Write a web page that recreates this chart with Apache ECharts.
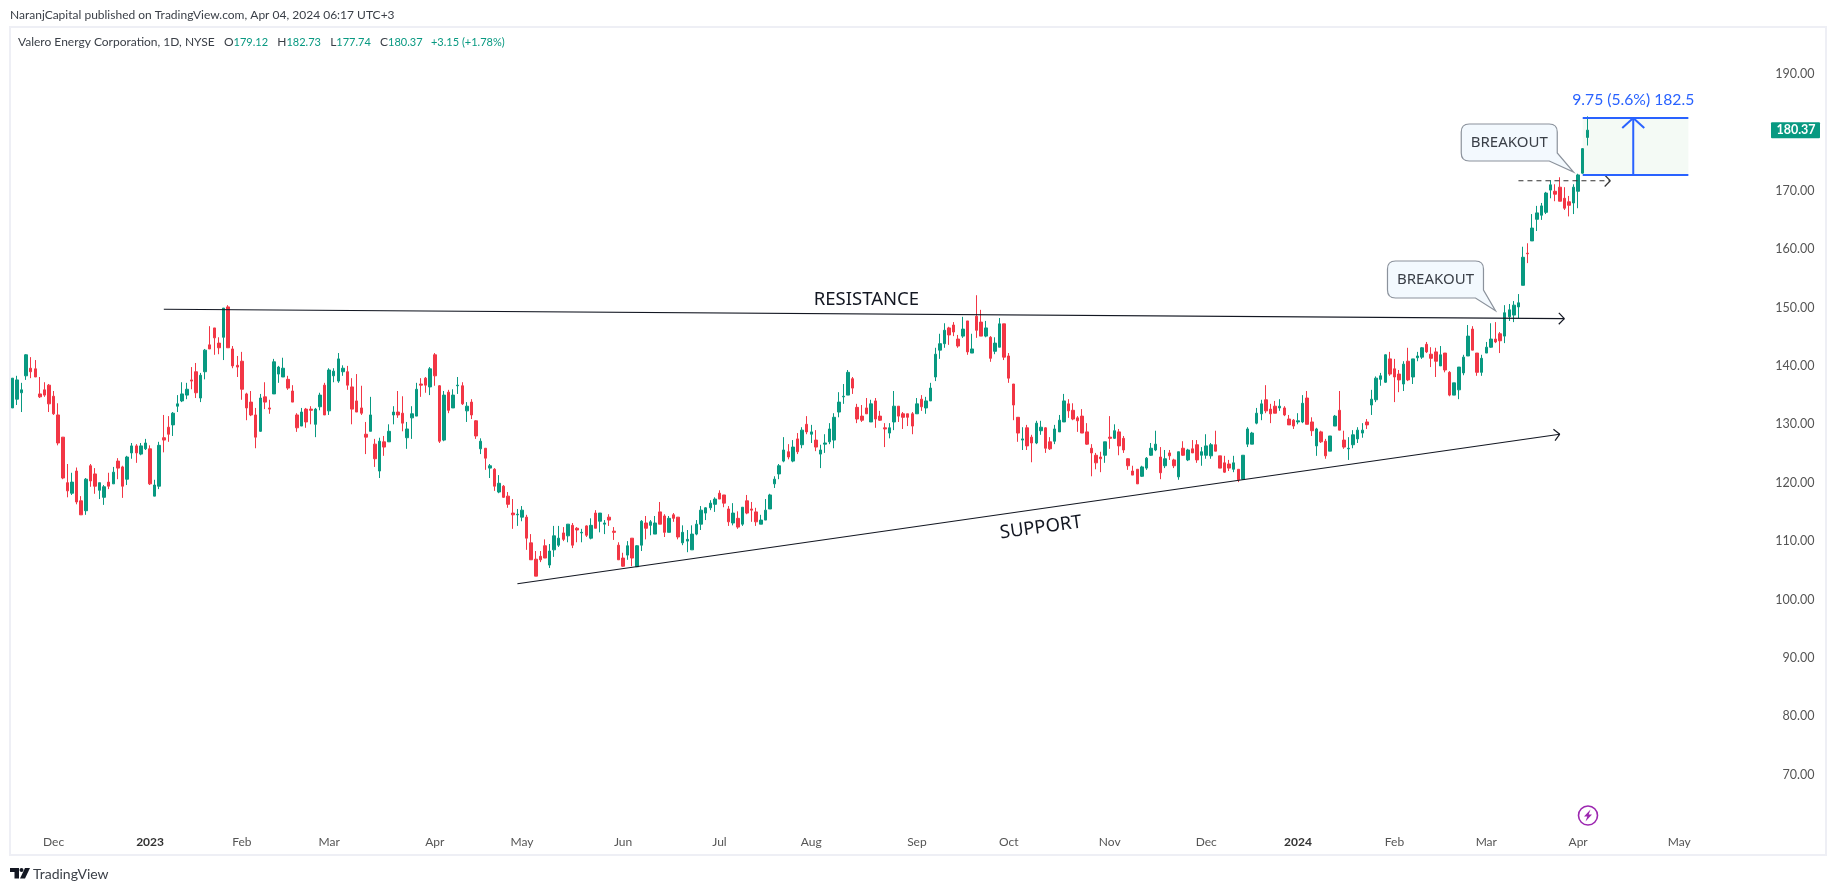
<!DOCTYPE html>
<html>
<head>
<meta charset="utf-8">
<title>Valero Energy Corporation, 1D</title>
<script src="https://cdn.jsdelivr.net/npm/echarts@6/dist/echarts.min.js"></script>
<style>
    html, body { margin: 0; padding: 0; background: #fff; }
    #chart { width: 1835px; height: 891px; }
</style>
</head>
<body>
<div id="chart"></div>
<script>
// daily bars, oldest first
var opens = [
    132.8,134.3,135.4,138.3,139.6,139.5,135.2,135.9,136.7,134.8,
    131.6,127.8,120.0,118.2,122.0,116.9,115.2,122.9,121.5,118.7,
    117.5,120.1,119.8,123.7,122.7,120.6,125.1,126.3,124.9,125.8,
    125.8,117.7,119.4,127.7,129.5,129.9,133.1,134.0,135.0,137.6,
    139.0,134.5,139.0,143.6,146.5,143.9,144.9,150.1,142.9,140.1,
    140.8,135.2,133.8,131.6,128.8,134.7,132.8,135.2,138.6,138.1,
    137.7,135.7,131.6,129.7,132.6,132.6,130.0,133.0,136.7,132.3,
    138.3,137.4,139.0,139.0,136.4,134.0,132.8,128.3,128.8,126.6,
    122.0,127.0,127.0,131.6,132.1,131.9,127.7,131.1,131.4,136.9,
    137.9,136.4,141.9,136.6,127.3,135.5,132.8,136.6,136.6,132.3,
    133.8,130.6,125.8,125.9,122.5,122.3,118.4,119.4,117.7,114.8,
    114.5,114.1,114.1,109.7,106.9,107.4,109.2,105.9,108.5,109.3,
    111.4,110.9,112.7,112.2,111.4,112.6,110.5,114.8,113.4,112.9,
    114.1,111.7,109.3,107.1,107.6,110.5,105.6,109.3,113.1,112.7,
    111.2,115.0,114.3,111.5,114.5,114.1,109.7,110.0,108.5,111.2,
    112.9,114.8,115.7,116.3,118.2,117.9,115.5,113.1,113.9,112.9,
    116.9,115.5,115.0,112.9,113.6,115.5,119.8,121.5,123.7,125.3,
    123.7,127.5,126.5,130.0,128.3,127.3,124.9,126.6,127.0,127.3,
    132.1,134.7,135.0,137.8,132.9,131.4,132.8,130.4,134.0,131.4,
    129.4,128.5,130.4,133.1,131.8,131.8,131.8,131.8,134.3,132.8,
    134.0,138.1,142.7,143.8,146.5,147.0,144.6,145.1,147.7,142.2,
    148.5,147.5,145.1,144.9,142.5,143.2,147.2,141.7,136.9,131.2,
    127.3,129.4,127.8,126.8,128.9,129.4,127.0,127.1,128.7,130.4,
    133.5,132.4,131.1,131.4,128.7,125.9,124.7,124.4,124.7,127.8,
    127.6,128.7,127.6,124.1,122.0,122.3,121.1,122.5,124.7,125.6,
    124.4,122.9,125.1,123.9,121.0,125.9,123.9,125.8,126.5,124.7,
    124.7,124.6,126.5,124.6,123.4,123.2,122.3,122.3,120.6,126.6,
    126.6,130.2,131.8,134.2,132.6,133.1,132.8,132.8,130.9,130.7,
    130.4,130.4,134.5,130.4,126.3,128.7,127.1,125.4,129.7,132.4,
    127.3,125.8,126.5,127.5,128.5,130.4,133.3,134.2,137.7,137.2,
    141.2,139.5,138.6,136.9,140.8,138.1,141.4,141.5,143.7,142.0,
    142.4,140.0,142.2,138.9,135.0,135.9,138.8,141.7,146.3,142.2,
    138.9,142.2,143.2,144.6,145.5,145.1,148.4,148.7,150.1,153.8,
    159.3,161.4,165.1,165.8,166.3,170.1,169.9,170.6,168.7,168.1,
    167.9,169.9,173.0,179.12
];
var closes = [
    137.9,137.6,135.9,141.9,139.0,138.1,134.7,135.0,133.5,131.8,
    126.8,120.8,118.6,120.1,116.7,114.5,120.6,120.3,119.4,120.0,
    119.3,119.4,121.8,122.5,119.4,124.4,126.3,125.1,126.3,126.8,
    119.8,119.6,126.4,127.3,128.3,131.9,133.5,135.2,136.0,137.4,
    135.4,138.4,142.7,142.9,144.8,143.1,149.9,143.1,140.0,139.8,
    136.0,132.8,131.6,127.8,134.5,133.8,132.6,140.7,139.8,139.6,
    136.2,133.8,129.4,132.1,130.4,132.4,132.6,135.0,131.6,139.3,
    139.1,141.2,139.6,136.7,132.6,132.1,131.9,127.8,131.6,124.1,
    127.1,126.1,128.8,132.1,131.6,130.2,129.2,131.8,136.0,136.7,
    136.7,139.5,138.3,127.1,135.0,132.4,135.0,136.7,133.5,133.1,
    131.6,128.0,127.1,124.2,122.9,119.4,119.9,117.5,116.3,114.5,
    114.6,115.3,110.5,106.8,104.0,106.8,107.1,108.3,110.9,110.5,
    110.3,112.9,109.3,111.9,111.5,111.0,112.7,112.2,114.8,113.1,
    113.6,111.5,106.8,105.7,109.2,107.1,109.2,113.4,112.2,113.3,
    113.1,112.9,111.5,113.9,113.9,110.7,111.5,110.3,111.2,112.9,
    115.3,115.7,116.5,117.2,117.2,116.5,113.3,114.8,112.4,115.8,
    114.8,115.3,113.3,113.6,115.3,117.9,120.6,122.9,125.6,124.4,
    126.1,125.3,129.0,128.7,128.7,126.1,125.6,126.8,129.2,131.2,
    133.8,134.8,138.9,136.2,130.9,130.7,131.8,133.5,130.9,130.7,
    129.2,129.4,133.1,131.4,131.2,131.2,129.7,133.5,133.0,134.0,
    136.2,142.0,143.8,146.1,145.3,145.8,143.4,146.3,142.4,142.9,
    146.1,145.1,146.5,141.3,143.9,147.2,141.5,137.9,133.3,128.5,
    127.5,126.3,126.8,130.2,129.5,125.9,125.8,129.2,130.7,134.0,
    132.3,130.9,130.6,128.5,126.6,125.1,123.4,124.1,127.0,127.6,
    128.9,126.3,125.6,122.9,121.3,119.8,122.7,124.2,125.9,126.6,
    121.7,124.1,124.6,122.9,125.3,124.7,125.6,125.1,123.9,125.3,
    126.3,126.5,125.4,122.5,121.8,122.5,123.4,120.5,124.7,129.2,
    128.5,131.9,133.5,132.3,131.8,131.9,133.1,131.6,129.9,129.7,
    130.6,133.6,130.0,128.9,129.2,127.0,124.6,128.0,131.4,129.0,
    126.1,125.9,128.2,129.0,129.0,129.9,134.3,137.9,138.3,141.9,
    138.6,138.1,137.6,140.3,137.6,141.2,141.7,143.1,142.4,141.3,
    140.8,141.9,139.3,135.0,137.1,139.8,141.5,145.1,142.7,138.9,
    141.3,143.2,144.6,144.1,144.3,149.1,149.6,150.4,150.8,158.6,
    159.2,163.6,166.2,167.4,169.6,171.0,169.4,168.2,167.0,167.5,
    170.6,172.7,177.2,180.37
];
var highs = [
    137.9,138.3,137.1,142.0,141.5,141.0,138.1,137.2,136.9,135.7,
    133.6,127.8,123.2,121.7,122.6,117.7,120.8,123.2,122.5,120.0,
    119.6,121.7,122.7,124.2,122.9,124.6,126.8,126.6,126.8,127.5,
    126.4,120.5,127.0,131.6,131.4,132.1,135.0,137.2,137.1,139.8,
    140.5,138.8,142.9,146.8,146.5,144.9,149.9,150.4,143.4,141.7,
    142.4,135.4,135.7,132.8,135.2,137.2,134.2,141.2,140.0,141.4,
    138.3,136.7,131.9,132.8,132.8,133.1,132.8,135.4,137.1,139.6,
    139.6,142.2,140.1,140.0,137.9,138.6,136.6,130.4,134.7,127.5,
    127.7,128.0,130.0,133.1,135.7,134.8,130.4,133.1,137.1,137.9,
    138.1,139.8,142.2,136.7,135.7,135.9,136.0,138.1,137.2,133.8,
    134.3,130.7,127.6,125.9,123.2,122.5,121.3,119.6,118.4,117.2,
    115.5,116.0,114.5,111.2,108.3,108.3,110.3,109.5,112.6,112.6,
    112.4,112.9,113.1,112.4,112.1,112.7,113.9,115.3,114.8,113.6,
    114.6,112.4,109.8,108.0,110.0,110.5,109.3,113.6,114.3,113.6,
    114.3,116.7,114.6,114.3,114.8,114.1,112.7,111.9,112.7,113.6,
    116.0,115.8,117.0,117.5,118.7,117.9,116.0,116.5,115.1,115.8,
    117.9,116.7,115.7,114.5,117.2,118.1,121.1,123.2,127.8,126.6,
    127.3,128.5,129.5,131.4,129.9,129.0,126.5,128.3,130.2,131.9,
    135.5,136.9,139.3,138.1,133.5,133.3,134.5,134.2,134.5,132.3,
    130.2,130.2,135.7,133.1,132.1,131.8,132.1,134.5,135.0,134.7,
    137.1,143.1,145.5,147.3,146.7,147.5,145.3,148.4,147.7,145.5,
    152.1,149.6,147.7,145.1,144.9,148.2,147.2,142.2,136.9,131.2,
    129.5,129.9,128.2,130.6,130.6,129.5,127.8,129.9,131.6,135.2,
    134.3,133.6,131.4,132.6,130.2,126.6,125.1,125.3,127.0,131.4,
    130.0,129.2,128.0,124.2,122.9,122.3,122.9,124.4,126.8,128.9,
    126.1,125.6,125.6,124.1,125.3,127.1,125.8,127.3,127.3,126.1,
    128.3,126.8,128.9,124.6,124.6,123.9,124.6,122.3,124.7,129.5,
    128.7,132.8,134.2,136.7,133.5,134.0,134.3,133.1,131.6,130.9,
    131.9,135.0,135.7,131.2,129.4,128.9,127.5,128.0,131.6,135.7,
    128.9,127.8,129.0,129.5,130.2,130.9,135.9,138.2,138.8,142.0,
    142.4,141.2,139.3,140.8,143.1,141.2,142.4,143.2,144.1,143.2,
    143.1,143.4,142.2,139.1,137.1,139.8,141.9,147.0,146.8,142.2,
    141.9,144.1,147.3,147.5,145.8,150.4,150.6,151.1,152.3,160.4,
    161.0,166.0,167.4,167.9,169.8,171.8,171.1,172.3,170.6,169.1,
    171.1,172.9,177.3,182.73
];
var lows = [
    132.8,133.3,132.1,137.6,137.9,138.1,134.5,134.7,132.1,131.6,
    126.4,120.6,117.5,117.9,116.3,114.5,114.5,119.3,118.1,117.2,
    116.2,118.9,119.8,120.6,117.4,119.6,124.1,123.4,124.7,125.6,
    119.6,117.7,118.9,125.2,127.0,128.0,132.1,133.8,134.3,136.0,
    134.5,133.8,137.7,142.9,141.9,142.0,141.0,143.1,139.6,138.1,
    134.2,130.7,131.4,125.9,128.7,132.6,131.8,135.2,137.1,138.1,
    135.9,133.8,128.7,129.7,129.4,130.0,127.8,132.4,131.6,131.6,
    137.2,137.1,138.3,135.9,130.0,132.1,131.6,124.9,128.8,122.7,
    120.8,124.6,127.0,130.0,131.1,128.8,125.8,127.5,131.4,134.7,
    135.4,135.0,136.6,126.8,127.1,131.9,132.8,135.2,133.3,130.4,
    130.9,127.5,124.9,122.2,120.8,118.6,118.2,117.4,115.7,112.1,
    112.6,113.4,108.5,106.8,104.0,106.4,107.1,105.4,107.3,109.0,
    110.0,109.8,108.8,109.8,109.8,110.7,110.3,112.2,111.5,111.2,
    112.6,110.2,106.8,105.6,106.8,105.7,105.6,108.3,110.3,111.0,
    111.2,112.9,110.7,111.5,113.3,110.3,109.3,108.1,108.5,111.0,
    111.9,113.6,115.3,115.0,117.2,115.8,112.6,112.7,112.1,112.6,
    114.6,113.3,112.6,112.9,113.6,115.5,119.1,120.6,123.5,124.0,
    123.5,124.9,125.9,128.3,126.8,125.4,122.5,125.1,126.6,125.9,
    131.2,133.5,135.0,135.2,130.2,130.4,131.8,130.4,129.4,130.6,
    126.1,127.6,129.0,130.4,129.2,129.7,128.3,131.8,132.3,131.8,
    134.0,137.4,141.2,143.1,143.6,145.1,143.1,144.8,141.9,142.2,
    144.8,145.1,144.9,140.7,142.0,143.2,141.0,137.1,130.7,127.0,
    125.6,125.6,123.5,126.6,128.2,125.1,125.6,126.6,128.7,130.4,
    131.1,130.7,128.7,128.5,126.5,121.1,122.3,121.8,123.4,125.8,
    127.5,124.7,125.1,122.2,121.3,119.8,121.0,122.2,124.6,125.4,
    120.6,122.5,123.9,122.5,120.5,124.6,123.7,125.1,123.4,122.9,
    124.1,124.1,125.4,122.5,121.7,122.0,121.8,120.1,120.5,126.1,
    126.6,130.0,130.7,131.9,130.2,131.9,132.3,131.4,129.9,129.2,
    130.0,130.2,130.0,128.0,124.6,126.8,124.1,125.4,129.7,129.0,
    125.8,123.9,125.9,126.8,127.7,129.2,131.6,133.8,136.6,137.1,
    138.3,133.8,135.5,135.7,137.4,136.9,140.8,141.2,142.2,139.8,
    138.1,140.0,138.9,134.8,135.0,134.3,138.4,141.7,142.7,138.3,
    138.3,142.2,143.1,143.9,142.2,143.9,147.7,147.5,148.2,153.8,
    157.6,161.4,163.1,165.0,166.0,168.7,168.2,168.2,166.7,165.6,
    166.0,167.0,172.9,177.74
];

// time axis: bar slot of each month label, the rest of the slots stay empty
var slotCount = 396;
var monthLabels = ['Dec', '2023', 'Feb', 'Mar', 'Apr', 'May', 'Jun', 'Jul', 'Aug', 'Sep', 'Oct', 'Nov', 'Dec', '2024', 'Feb', 'Mar', 'Apr', 'May'];
var monthSlots = [9, 30, 50, 69, 92, 111, 133, 154, 174, 197, 217, 239, 260, 280, 301, 321, 341, 363];
var priceTicks = [70, 80, 90, 100, 110, 120, 130, 140, 150, 160, 170, 180, 190];

// drawings, as [slot, price]
var resistanceLine = [[33, 149.7], [338, 148.1]];
var supportLine = [[110, 102.7], [337, 128.3]];
var dashedLine = [[328, 171.7], [348, 171.7]];
var rangeFrom = [342, 172.7];
var rangeTo = [365, 182.45];
var rangeArrowSlot = 353;
var lastPrice = 180.37;

var GREEN = '#089981';
var RED = '#f23645';
var BLUE = '#2962ff';
var FONT = 'Lato, "Noto Sans", sans-serif';

var categories = [];
for (var s = 0; s < slotCount; s++) {
    var at = monthSlots.indexOf(s);
    categories.push(at >= 0 ? monthLabels[at] : '');
}

var candles = [];
for (var i = 0; i < opens.length; i++) {
    candles.push([opens[i], closes[i], lows[i], highs[i]]);
}

function segment(a, b, stroke, width, dash) {
    return {
        type: 'line',
        shape: { x1: a[0], y1: a[1], x2: b[0], y2: b[1] },
        style: { stroke: stroke, lineWidth: width, lineDash: dash || null, fill: null }
    };
}

// line from a to b with an open head at b
function arrowLine(api, from, to, stroke, dash) {
    var a = api.coord(from);
    var b = api.coord(to);
    var ang = Math.atan2(b[1] - a[1], b[0] - a[0]);
    var len = 8;
    var h1 = [b[0] - len * Math.cos(ang - 0.8), b[1] - len * Math.sin(ang - 0.8)];
    var h2 = [b[0] - len * Math.cos(ang + 0.8), b[1] - len * Math.sin(ang + 0.8)];
    return [
        segment(a, b, stroke, 1.2, dash),
        segment(h1, b, stroke, 1.2),
        segment(h2, b, stroke, 1.2)
    ];
}

// rounded label box with a tail that ends on the given point
function callout(api, tipPoint, right, bottom) {
    var tip = api.coord(tipPoint);
    var x1 = tip[0] - right - 96;
    var x2 = tip[0] - right;
    var y1 = tip[1] - bottom - 37;
    var y2 = tip[1] - bottom;
    var r = 8;
    var d = 'M' + (x1 + r) + ' ' + y1 + ' L' + (x2 - r) + ' ' + y1 +
        ' Q' + x2 + ' ' + y1 + ' ' + x2 + ' ' + (y1 + r) +
        ' L' + x2 + ' ' + (y2 - 8) +
        ' L' + tip[0] + ' ' + tip[1] +
        ' L' + (x2 - 8) + ' ' + y2 +
        ' L' + (x1 + r) + ' ' + y2 +
        ' Q' + x1 + ' ' + y2 + ' ' + x1 + ' ' + (y2 - r) +
        ' L' + x1 + ' ' + (y1 + r) +
        ' Q' + x1 + ' ' + y1 + ' ' + (x1 + r) + ' ' + y1 + ' Z';
    return [
        { type: 'path', shape: { pathData: d }, style: { fill: '#f3f9fe', stroke: '#8b929c', lineWidth: 1.2 } },
        {
            type: 'text',
            style: { text: 'BREAKOUT', x: (x1 + x2) / 2, y: (y1 + y2) / 2, fill: '#3a3f47', font: '15px "Noto Sans", sans-serif', align: 'center', verticalAlign: 'middle' }
        }
    ];
}

function chartText(api, point, text, angle) {
    var p = api.coord(point);
    return {
        type: 'text',
        x: p[0],
        y: p[1],
        rotation: angle,
        style: { text: text, x: 0, y: 0, fill: '#131722', font: '18.5px "Noto Sans", sans-serif', align: 'center', verticalAlign: 'middle' }
    };
}

function renderDrawings(params, api) {
    var items = [];
    items = items.concat(arrowLine(api, resistanceLine[0], resistanceLine[1], '#131722'));
    items = items.concat(arrowLine(api, supportLine[0], supportLine[1], '#131722'));
    items = items.concat(arrowLine(api, dashedLine[0], dashedLine[1], '#333', [5, 4]));

    // price range box
    var low = api.coord(rangeFrom);
    var high = api.coord(rangeTo);
    var mid = api.coord([rangeArrowSlot, rangeTo[1]])[0];
    items.push({
        type: 'rect',
        shape: { x: low[0], y: high[1], width: high[0] - low[0], height: low[1] - high[1] },
        style: { fill: 'rgba(76,175,80,0.06)' }
    });
    items.push(segment([low[0], high[1]], [high[0], high[1]], BLUE, 2));
    items.push(segment([low[0], low[1]], [high[0], low[1]], BLUE, 2));
    items.push(segment([mid, low[1]], [mid, high[1]], BLUE, 2));
    items.push(segment([mid - 11, high[1] + 10], [mid, high[1]], BLUE, 2));
    items.push(segment([mid + 11, high[1] + 10], [mid, high[1]], BLUE, 2));
    items.push({
        type: 'text',
        style: { text: '9.75 (5.6%) 182.5', x: mid, y: high[1] - 18, fill: BLUE, font: '15.7px ' + FONT, align: 'center', verticalAlign: 'middle' }
    });

    items = items.concat(callout(api, [340, 173.2], 16.3, 11));
    items = items.concat(callout(api, [323, 149.45], 12, 12.7));
    items.push(chartText(api, [186, 151.4], 'RESISTANCE', 0));
    items.push(chartText(api, [224, 112.3], 'SUPPORT', 0.135));

    // last price tag on the scale
    var tagY = api.coord([0, lastPrice])[1];
    items.push({
        type: 'rect',
        shape: { x: 1771, y: tagY - 8, width: 49, height: 16, r: 1 },
        style: { fill: GREEN }
    });
    items.push({
        type: 'text',
        style: { text: lastPrice.toFixed(2), x: 1796, y: tagY, fill: '#fff', font: 'bold 12.5px ' + FONT, align: 'center', verticalAlign: 'middle' }
    });
    return { type: 'group', children: items };
}

var chart = echarts.init(document.getElementById('chart'));
chart.setOption({
    animation: false,
    backgroundColor: '#fff',
    title: [
        {
            left: 10,
            top: 9,
            padding: 0,
            text: 'NaranjCapital published on TradingView.com, Apr 04, 2024 06:17 UTC+3',
            textStyle: { fontFamily: FONT, fontSize: 12, fontWeight: 'normal', color: '#3a3f47' }
        },
        {
            left: 18,
            top: 36,
            padding: 0,
            text: '{n|Valero Energy Corporation, 1D, NYSE   O}{g|179.12}{n|   H}{g|182.73}{n|   L}{g|177.74}{n|   C}{g|180.37}{g|   +3.15 (+1.78%)}',
            textStyle: {
                fontWeight: 'normal',
                rich: {
                    n: { fontFamily: FONT, fontSize: 12, fontWeight: 'normal', color: '#3a3f47' },
                    g: { fontFamily: FONT, fontSize: 11, fontWeight: 'normal', color: GREEN }
                }
            }
        }
    ],
    grid: {
        left: 10,
        top: 27,
        width: 1818.4,
        height: 828
    },
    xAxis: {
        type: 'category',
        data: categories,
        boundaryGap: true,
        axisLine: { show: false },
        axisTick: { show: false },
        splitLine: { show: false },
        axisLabel: {
            inside: true,
            margin: 7,
            interval: function (index, value) { return value !== ''; },
            formatter: function (value) {
                return value.length === 4 ? '{y|' + value + '}' : value;
            },
            fontFamily: FONT,
            fontSize: 12,
            color: '#555',
            rich: { y: { fontFamily: FONT, fontSize: 12, fontWeight: 'bold', color: '#333' } }
        }
    },
    yAxis: {
        type: 'value',
        position: 'right',
        min: 56.25,
        max: 198.03,
        axisLine: { show: false },
        axisTick: { show: false },
        splitLine: { show: false },
        axisLabel: {
            inside: true,
            margin: 14,
            padding: [2, 0, 0, 0],
            customValues: priceTicks,
            formatter: function (value) { return value.toFixed(2); },
            fontFamily: FONT,
            fontSize: 12.5,
            color: '#555'
        }
    },
    series: [
        {
            type: 'candlestick',
            data: candles,
            barWidth: 3,
            itemStyle: {
                color: GREEN,
                color0: RED,
                borderColor: GREEN,
                borderColor0: RED,
                borderWidth: 1
            },
            silent: true,
            z: 3
        },
        {
            type: 'custom',
            coordinateSystem: 'cartesian2d',
            data: [[0, 100]],
            renderItem: renderDrawings,
            silent: true,
            z: 5
        }
    ],
    graphic: [
        // chart frame
        { type: 'rect', shape: { x: 10, y: 27, width: 1816, height: 828 }, style: { fill: 'none', stroke: '#eeeff5', lineWidth: 2 }, silent: true },
        // lightning badge above the time scale
        { type: 'circle', shape: { cx: 1588, cy: 815.5, r: 9.5 }, style: { fill: '#fff', stroke: '#9c27b0', lineWidth: 1.6 } },
        { type: 'polygon', shape: { points: [[1590.5, 809.5], [1584, 816.5], [1587.3, 816.5], [1585.5, 821.5], [1592, 814.5], [1588.7, 814.5]] }, style: { fill: '#9c27b0' } },
        // TradingView logo
        { type: 'polygon', shape: { points: [[10, 868], [19, 868], [19, 878.5], [14.5, 878.5], [14.5, 872], [10, 872]] }, style: { fill: '#131722' } },
        { type: 'circle', shape: { cx: 21.5, cy: 870, r: 2 }, style: { fill: '#131722' } },
        { type: 'polygon', shape: { points: [[25, 868], [30, 868], [25, 878.5], [20, 878.5]] }, style: { fill: '#131722' } },
        { type: 'text', style: { text: 'TradingView', x: 33, y: 874, fill: '#3a3f47', font: '14px ' + FONT, verticalAlign: 'middle' } }
    ]
});
</script>
</body>
</html>
